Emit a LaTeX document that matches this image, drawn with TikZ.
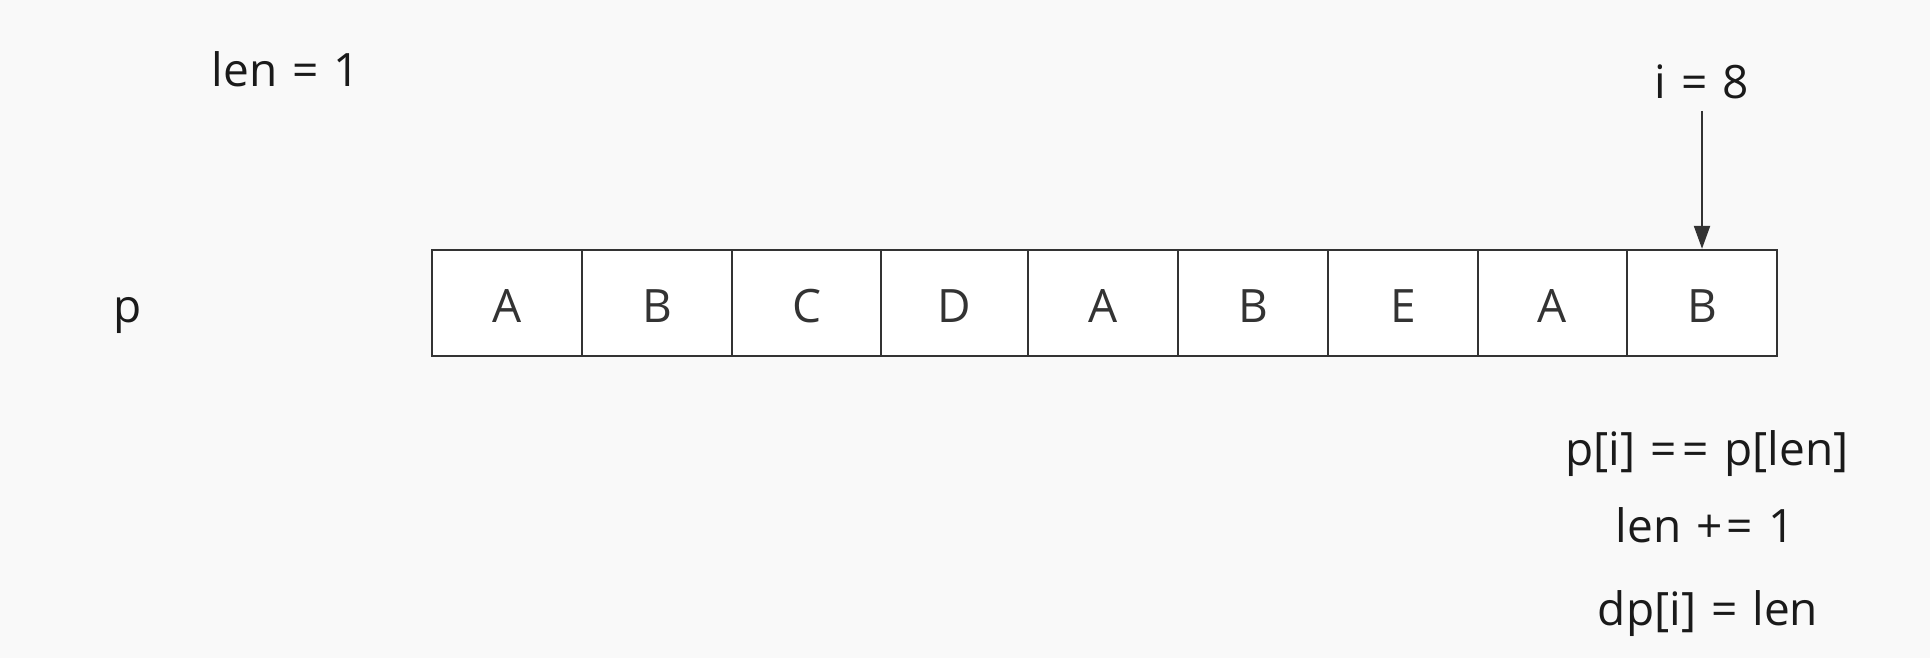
\documentclass[tikz,border=0pt]{standalone}
\usepackage{fontspec}
\setmainfont{Open Sans}
\usetikzlibrary{arrows.meta}
\definecolor{bg}{HTML}{F9F9F9}
\definecolor{ln}{HTML}{333333}
\definecolor{tx}{HTML}{1A1A1A}
\newcommand{\wsp}{\hspace{15pt}}
\begin{document}
\begin{tikzpicture}[x=1pt,y=-1pt,
  cellbox/.style={draw=ln,line width=2.4pt,fill=white,minimum width=150pt,minimum height=106pt,inner sep=0pt,text height=38pt,text depth=0pt,anchor=center,text=ln,font=\fontsize{46}{54}\selectfont},
  lbl/.style={inner sep=0pt,text=tx,font=\fontsize{46}{54}\selectfont,anchor=base},
  arr/.style={draw=ln,line width=2.2pt,-{Triangle[length=23pt,width=16pt]}}]
\fill[bg] (0,0) rectangle (1930,658);
\useasboundingbox (0,0) rectangle (1930,658);
\foreach \n/\l/\xl/\xr in {1/A/432/582,2/B/582/732,3/C/732/881,4/D/881/1028,5/A/1028/1178,6/B/1178/1328,7/E/1328/1478,8/A/1478/1627,9/B/1627/1777}{
  \node[cellbox,minimum width={\xr-\xl}] (c\n) at ({(\xl+\xr)/2},303) {\l};
}
\node[lbl] (len) at (286,87) {len\wsp=\wsp1};
\node[lbl] (p) at (128,322) {p};
\node[lbl] (i) at (1702,99) {i\wsp=\wsp8};
\node[lbl] (l1) at (1707,465) {p[i]\wsp=\kern6pt=\wsp p[len]};
\node[lbl] (l2) at (1705,542) {len\wsp+\kern4pt=\wsp1};
\node[lbl] (l3) at (1708,625) {dp[i]\wsp=\wsp len};
\coordinate (is) at (1702,111);
\draw[arr] (is) -- (c9.north);
\end{tikzpicture}
\end{document}
